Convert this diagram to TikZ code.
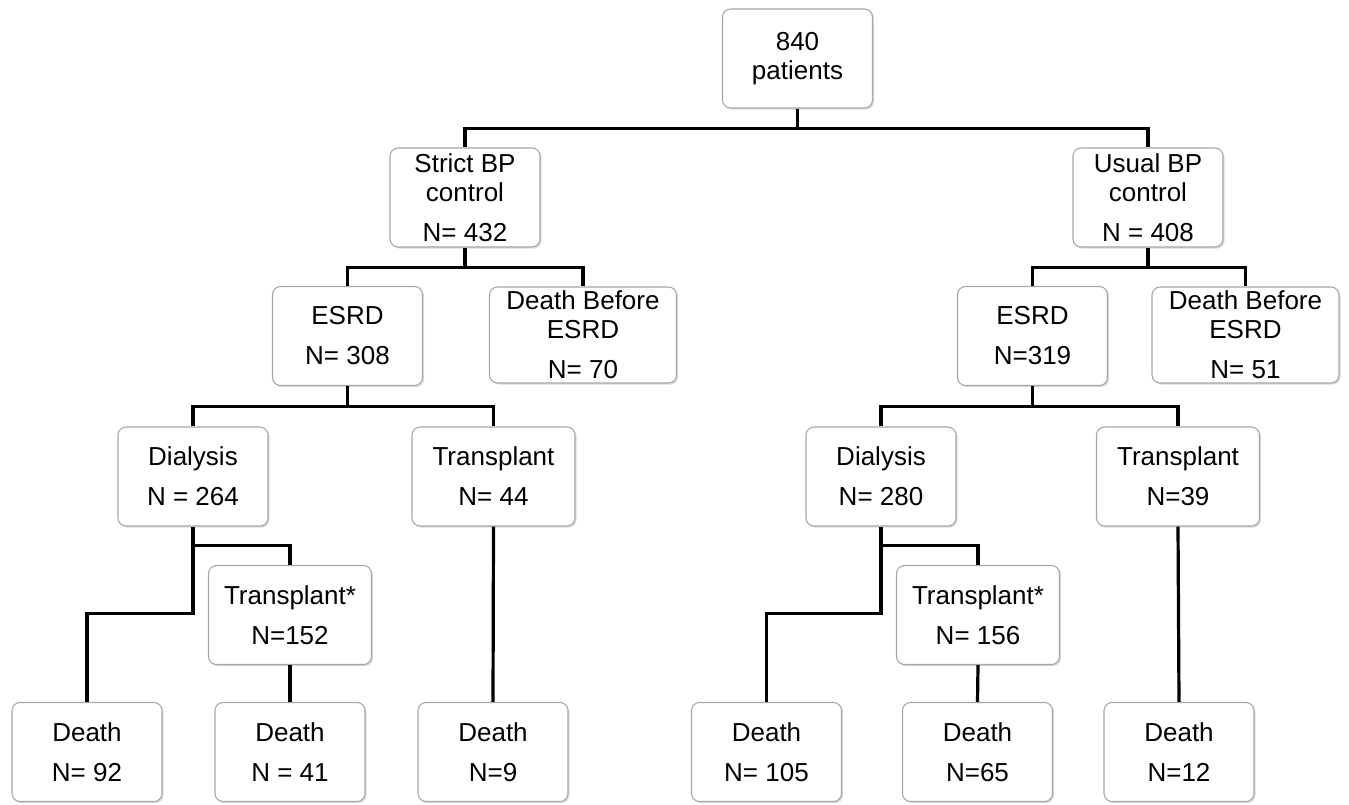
\documentclass[tikz,border=0pt]{standalone}
\usepackage{fontspec}
\setmainfont{Liberation Sans}
\usetikzlibrary{shadows}

\tikzset{
  box/.style={draw=black!35, fill=white, rounded corners=6pt, line width=0.8pt,
    minimum width=112.5pt, minimum height=74.25pt, align=center, inner sep=2pt,
    font=\fontsize{19.5}{21.75}\selectfont,
    drop shadow={shadow xshift=1.2pt, shadow yshift=-1.2pt, fill=black!30, opacity=0.45}},
  widebox/.style={box, minimum width=122.25pt},
  deathbox/.style={box, minimum width=140.25pt, minimum height=72pt},
  conn/.style={line width=2.4pt, black}
}

\begin{document}
\begin{tikzpicture}[x=0.75pt,y=-0.75pt]
\useasboundingbox (0,0) rectangle (1349,804);

% top of the tree
\node[box] (pat) at (797.5,58.5) {840\\patients};
\node[box] (strict) at (465,197.5) {Strict BP\\control\\[8.25pt]N= 432};
\node[box] (usual) at (1148,197.5) {Usual BP\\control\\[8.25pt]N = 408};

% ESRD or death
\node[box] (esrdL) at (347.5,336) {ESRD\\[8.25pt]N= 308};
\node[deathbox] (dbeL) at (583,335) {Death Before\\ESRD\\[8.25pt]N= 70};
\node[box] (esrdR) at (1032.5,336) {ESRD\\[8.25pt]N=319};
\node[deathbox] (dbeR) at (1245.5,335) {Death Before\\ESRD\\[8.25pt]N= 51};

% treatment
\node[box] (dialL) at (193,476.5) {Dialysis\\[8.25pt]N = 264};
\node[widebox] (trL) at (493.5,476.5) {Transplant\\[8.25pt]N= 44};
\node[box] (dialR) at (881,476.5) {Dialysis\\[8.25pt]N= 280};
\node[widebox] (trR) at (1178,476.5) {Transplant\\[8.25pt]N=39};
\node[widebox] (tsL) at (290,615) {Transplant*\\[8.25pt]N=152};
\node[widebox] (tsR) at (978,615) {Transplant*\\[8.25pt]N= 156};

% the deaths
\foreach \nm/\x/\n in {d92/87/{N= 92}, d41/290/{N = 41}, d9/493/{N=9},
                       d105/766.5/{N= 105}, d65/977.5/{N=65}, d12/1179/{N=12}}
  \node[box] (\nm) at (\x,752) {Death\\[8.25pt]\n};

% draw the elbows
\foreach \a/\b/\d in {pat/strict/20, pat/usual/20,
                      strict/esrdL/20, strict/dbeL/20, usual/esrdR/20, usual/dbeR/20,
                      esrdL/dialL/20.5, esrdL/trL/20.5, esrdR/dialR/20.5, esrdR/trR/20.5,
                      dialL/tsL/19, dialL/d92/87, dialR/tsR/19, dialR/d105/87}
  \draw[conn] (\a.south) -- ++(0,\d) -| (\b.north);

\foreach \a/\b in {tsL/d41, trL/d9, tsR/d65, trR/d12}
  \draw[conn] (\a.south) -- (\b.north);

\end{tikzpicture}
\end{document}
